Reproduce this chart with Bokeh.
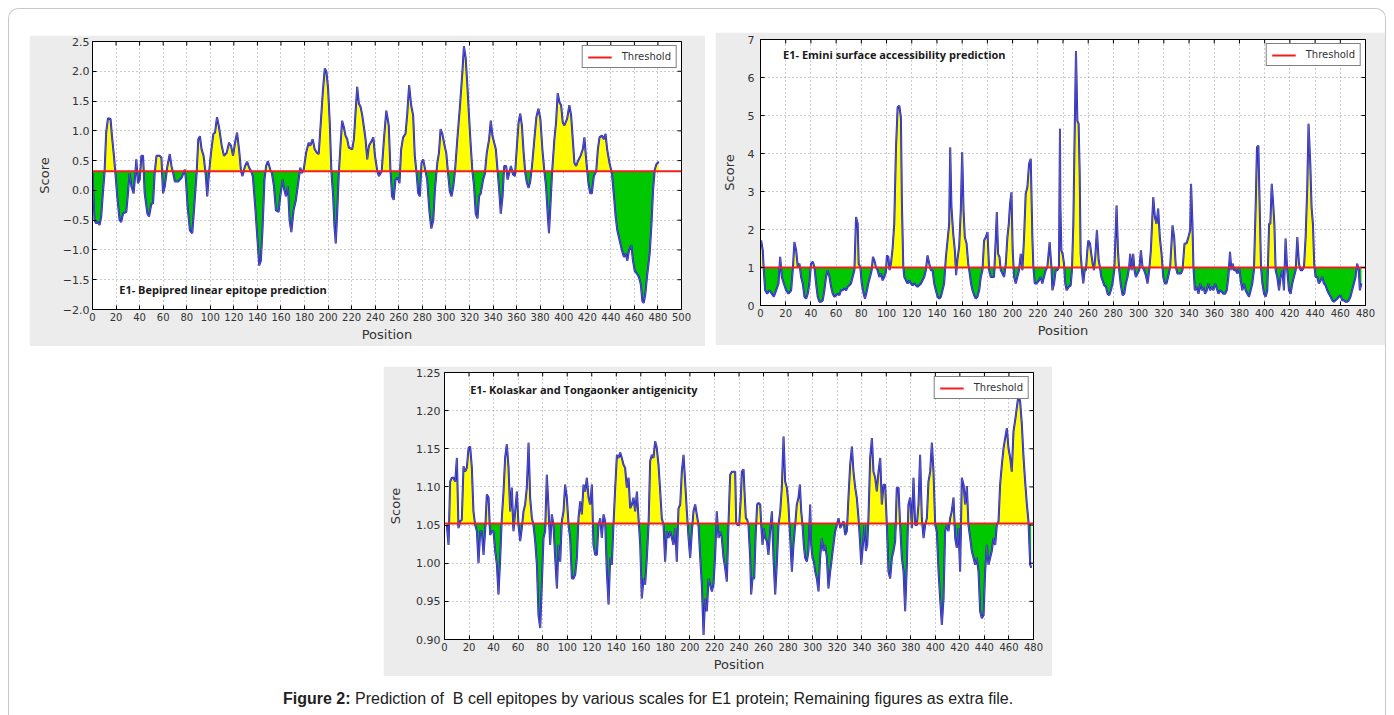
import numpy as np
from bokeh.plotting import figure
from bokeh.models import (Label, Legend, LegendItem, CustomJSTickFormatter, FixedTicker,
                          Range1d, Div, Spacer)
from bokeh.layouts import column, row
from bokeh.embed import file_html
from bokeh.resources import INLINE

# ---------------- data (position, score) ----------------
bepipred = [(0,0.29),(1.7,-0.50),(3.1,-0.55),(4.5,-0.53),(6.0,-0.58),(7.4,-0.44),(8.8,-0.05),(10.2,0.29),(11.6,0.97),(13.1,1.21),(15.3,1.20),(16.5,0.92),(18.2,0.58),(19.3,0.32),(21.0,-0.10),(23.0,-0.50),(24.4,-0.53),(25.9,-0.39),(28.7,-0.36),(30.1,-0.05),(31.5,0.29),(33.0,0.07),(34.9,-0.05),(36.4,0.29),(37.2,0.52),(38.6,0.12),(40.1,0.18),(41.5,0.58),(42.9,0.58),(44.3,-0.05),(46.6,-0.39),(48.0,-0.44),(50.0,-0.22),(51.4,-0.22),(52.8,0.29),(54.3,0.58),(57.1,0.58),(58.5,0.55),(59.9,-0.05),(61.4,0.07),(63.6,0.41),(65.6,0.61),(67.0,0.41),(68.5,0.29),(69.9,0.15),(72.7,0.15),(75.6,0.21),(78.4,0.35),(79.3,0.18),(80.7,-0.27),(82.7,-0.67),(84.7,-0.72),(86.4,-0.27),(88.4,0.29),(89.8,0.86),(91.2,0.91),(92.6,0.69),(94.3,0.58),(96.0,0.29),(97.4,-0.10),(98.9,0.29),(100.6,0.63),(102.6,0.95),(104.0,0.97),(105.7,1.23),(107.4,1.06),(109.7,0.75),(111.6,0.58),(113.9,0.63),(115.9,0.80),(117.6,0.75),(119.3,0.58),(121.0,0.80),(122.7,0.97),(124.4,0.69),(126.1,0.32),(127.3,0.24),(129.5,0.41),(131.3,0.48),(133.0,0.38),(134.7,0.32),(136.1,0.24),(138.1,-0.27),(140.1,-0.84),(141.5,-1.26),(142.9,-1.18),(144.3,-0.67),(146.0,0.18),(147.4,0.41),(148.9,0.49),(150.9,0.35),(152.3,0.29),(154.0,0.07),(155.7,-0.33),(158.0,-0.36),(159.4,-0.10),(161.4,0.18),(162.8,0.01),(164.2,-0.10),(165.9,0.07),(167.3,-0.50),(168.8,-0.70),(170.7,-0.33),(172.7,-0.16),(175.0,0.18),(176.4,0.38),(177.8,0.29),(179.3,0.35),(181.3,0.63),(183.5,0.80),(184.9,0.75),(186.9,0.86),(188.6,0.69),(190.6,0.63),(192.0,0.61),(193.8,1.14),(195.5,1.65),(197.2,2.05),(198.6,1.99),(200.0,1.71),(201.4,1.14),(202.8,0.32),(204.3,-0.10),(205.4,-0.61),(206.5,-0.89),(207.7,-0.39),(209.1,0.29),(210.5,0.75),(211.9,1.17),(213.4,1.06),(214.8,0.92),(216.2,0.86),(217.6,0.72),(220.5,0.69),(221.9,0.86),(223.3,1.31),(224.7,1.74),(226.1,1.46),(227.6,1.40),(229.0,1.26),(230.4,1.06),(231.8,0.86),(233.2,0.52),(234.7,0.75),(236.9,0.83),(238.4,0.89),(239.8,0.58),(241.8,0.32),(243.2,0.24),(245.5,0.32),(247.4,0.86),(249.4,1.34),(251.5,1.09),(252.9,0.35),(254.3,-0.10),(255.7,-0.16),(257.2,0.18),(259.1,0.21),(260.6,0.12),(262.0,0.69),(263.7,0.89),(265.7,0.95),(267.1,1.26),(268.8,1.77),(270.5,1.43),(272.2,1.26),(273.6,0.58),(275.1,0.29),(276.5,-0.05),(277.9,-0.10),(279.3,0.46),(280.7,0.52),(282.7,0.32),(284.1,0.18),(285.9,-0.33),(287.6,-0.64),(289.3,-0.50),(290.7,0.01),(292.7,0.46),(294.1,0.63),(295.5,1.03),(297.0,0.95),(298.9,0.75),(300.3,0.63),(301.8,0.29),(303.4,-0.02),(304.8,-0.10),(306.3,0.07),(307.7,0.32),(309.7,0.86),(312.0,1.43),(314.0,1.99),(315.3,2.42),(316.8,2.22),(318.2,1.77),(319.6,1.26),(321.1,0.75),(322.5,0.32),(323.9,0.07),(325.3,-0.39),(326.8,-0.47),(328.2,-0.10),(329.6,-0.05),(331.6,0.18),(333.0,0.27),(334.7,0.63),(336.7,0.86),(338.1,1.17),(339.5,0.92),(341.0,0.80),(342.4,0.69),(343.8,0.35),(345.2,0.01),(346.6,-0.39),(348.1,-0.10),(349.5,0.41),(351.2,0.41),(352.3,0.18),(353.8,0.29),(355.2,0.41),(356.9,0.27),(358.6,0.24),(360.3,0.75),(361.7,1.14),(363.1,1.29),(364.5,1.09),(366.0,0.63),(367.4,0.29),(368.8,0.12),(370.2,0.04),(371.6,0.15),(373.1,0.41),(375.1,0.86),(376.8,1.23),(378.5,1.37),(380.2,1.20),(381.9,0.69),(383.6,0.32),(385.0,0.07),(386.4,-0.39),(387.5,-0.72),(388.7,-0.27),(390.1,0.29),(392.1,0.86),(393.5,1.14),(394.9,1.63),(396.4,1.48),(397.8,1.43),(399.2,1.14),(400.6,1.09),(402.9,1.20),(404.8,1.43),(406.3,1.26),(407.7,0.86),(409.1,0.46),(410.6,0.41),(412.0,0.49),(414.3,0.58),(416.2,0.69),(417.6,0.89),(418.8,0.58),(419.9,0.35),(421.0,0.12),(422.5,-0.05),(423.9,-0.05),(425.6,0.24),(427.6,0.32),(429.0,0.69),(430.4,0.89),(432.4,0.92),(434.1,0.86),(435.5,0.95),(436.9,0.69),(438.9,0.46),(440.9,0.29),(442.7,-0.10),(444.1,-0.44),(445.5,-0.67),(447.5,-0.84),(449.5,-1.01),(451.1,-1.12),(452.6,-1.06),(454.0,-1.18),(455.4,-1.01),(457.4,-0.92),(458.8,-1.18),(460.3,-1.35),(462.2,-1.40),(463.9,-1.46),(465.4,-1.57),(466.8,-1.86),(467.9,-1.89),(469.3,-1.74),(471.0,-1.40),(473.0,-1.06),(474.4,-0.61),(475.9,0.01),(477.3,0.35),(478.7,0.44),(480.7,0.48)]

emini = [(0.5,1.71),(1.8,1.45),(2.6,0.93),(3.7,0.40),(5.3,0.31),(7.1,0.40),(9.0,0.31),(10.6,0.23),(12.4,0.40),(14.3,0.58),(15.6,1.28),(16.9,0.75),(18.5,0.58),(20.3,0.40),(22.2,0.31),(24.3,0.40),(25.6,0.93),(26.9,1.67),(28.3,1.45),(29.6,1.01),(30.9,1.10),(32.2,0.75),(33.5,0.58),(34.9,0.23),(36.2,0.18),(37.5,0.31),(38.8,0.58),(40.1,1.10),(41.5,1.15),(42.8,1.01),(44.1,0.58),(45.4,0.23),(46.7,0.10),(48.1,0.10),(49.4,0.14),(50.7,0.40),(52.0,0.75),(53.3,0.93),(54.7,0.75),(56.0,0.49),(57.3,0.31),(58.6,0.23),(59.9,0.27),(61.3,0.31),(62.6,0.27),(63.9,0.40),(65.2,0.40),(66.5,0.45),(67.9,0.40),(69.2,0.49),(70.5,0.53),(71.8,0.58),(73.1,0.75),(74.5,0.93),(75.8,2.33),(77.1,2.15),(77.9,1.10),(79.2,1.01),(80.3,0.58),(81.8,0.31),(82.9,0.18),(84.5,0.40),(85.5,0.58),(86.9,0.75),(88.2,0.93),(89.2,1.28),(90.3,1.19),(91.6,1.01),(92.9,0.93),(94.3,0.75),(95.6,0.84),(96.9,0.66),(98.2,0.75),(99.5,0.88),(100.3,1.32),(101.4,1.28),(102.4,0.93),(103.5,1.10),(104.8,1.50),(106.1,2.15),(107.5,4.16),(108.8,5.21),(110.1,5.26),(111.4,4.95),(112.2,2.68),(113.3,1.01),(114.1,0.75),(115.4,0.66),(116.7,0.58),(118.0,0.66),(119.3,0.58),(120.7,0.53),(122.0,0.58),(123.3,0.53),(124.6,0.49),(127.3,0.58),(129.9,0.75),(131.2,0.93),(132.5,1.32),(133.9,1.10),(135.2,0.93),(136.5,0.93),(137.8,0.58),(139.1,0.40),(140.5,0.23),(141.8,0.18),(143.1,0.23),(144.4,0.40),(145.7,0.58),(147.1,1.28),(148.4,1.71),(149.7,2.15),(150.5,4.16),(151.5,2.59),(152.9,1.89),(154.2,1.45),(155.2,0.80),(156.3,1.23),(157.6,1.54),(158.9,2.50),(160.0,4.03),(161.1,2.50),(162.1,1.80),(163.5,1.63),(164.8,1.10),(166.0,0.84),(167.0,0.58),(168.2,0.40),(169.5,0.27),(170.8,0.18),(172.1,0.23),(173.5,0.40),(174.8,0.75),(176.1,0.93),(177.4,1.71),(178.7,1.80),(180.1,1.93),(181.4,0.93),(182.7,0.75),(184.0,0.75),(185.3,0.75),(186.7,1.80),(187.5,2.46),(188.5,1.36),(189.6,1.28),(190.6,0.93),(192.0,0.84),(193.3,0.75),(194.6,1.10),(195.9,1.80),(197.0,2.15),(198.0,2.68),(199.1,2.98),(200.1,1.45),(201.2,0.75),(202.5,0.58),(203.8,0.75),(205.1,0.93),(206.5,1.36),(207.8,0.93),(209.1,1.80),(210.4,2.94),(211.7,3.11),(213.1,3.73),(214.4,3.86),(215.7,1.80),(216.5,1.01),(217.6,0.58),(219.1,0.58),(221.0,0.66),(222.3,0.75),(223.6,0.58),(224.9,0.75),(226.3,0.93),(227.6,1.01),(229.4,1.67),(230.8,1.01),(231.6,0.40),(232.9,0.58),(234.2,0.93),(235.5,0.93),(236.8,1.01),(237.6,4.65),(237.9,2.68),(238.7,1.45),(239.7,1.36),(240.8,1.10),(241.8,0.58),(242.9,0.40),(244.5,0.49),(246.1,0.53),(247.1,0.93),(248.2,2.15),(249.2,4.43),(250.3,6.70),(251.4,4.86),(252.4,4.78),(253.2,3.55),(254.0,1.36),(255.0,0.93),(256.1,0.58),(257.2,0.93),(258.2,0.93),(259.3,1.45),(260.1,1.71),(261.4,1.63),(262.4,1.36),(263.5,1.10),(264.6,0.93),(265.6,1.28),(266.9,1.98),(268.3,1.19),(269.3,1.01),(270.4,0.75),(271.4,0.66),(272.7,0.53),(274.1,0.49),(275.4,0.31),(276.7,0.27),(278.0,0.40),(279.3,0.58),(280.7,0.93),(282.5,2.63),(283.6,1.45),(284.6,0.93),(285.9,0.53),(287.3,0.27),(288.6,0.31),(289.9,0.58),(291.2,0.75),(292.5,1.01),(293.3,1.36),(294.4,0.93),(295.7,1.36),(296.7,0.93),(297.8,0.75),(299.1,0.84),(300.5,0.93),(301.8,1.45),(303.1,1.01),(304.4,0.93),(305.7,0.80),(307.1,0.58),(308.4,0.93),(309.7,1.45),(311.6,2.85),(312.9,2.33),(314.2,2.15),(315.5,2.55),(316.8,1.80),(318.2,1.36),(319.5,0.75),(320.8,0.58),(322.1,0.58),(323.4,0.75),(325.0,1.01),(326.9,2.11),(328.2,1.80),(329.5,1.01),(330.8,0.84),(332.1,0.84),(333.5,0.84),(334.8,0.93),(336.4,1.63),(338.0,1.63),(339.5,1.80),(340.9,1.98),(341.6,3.20),(342.7,2.15),(343.5,1.01),(344.6,0.40),(345.9,0.49),(347.5,0.31),(348.8,0.58),(350.1,0.40),(351.4,0.49),(352.7,0.31),(354.1,0.40),(355.4,0.58),(356.7,0.40),(358.0,0.49),(359.3,0.40),(360.7,0.58),(362.0,0.45),(363.3,0.31),(364.6,0.40),(365.9,0.36),(367.3,0.31),(368.6,0.31),(369.9,0.40),(371.2,0.75),(372.5,1.41),(373.6,0.93),(374.7,1.10),(375.7,0.93),(377.0,0.93),(378.4,0.84),(379.7,1.01),(381.0,0.66),(382.3,0.40),(383.6,0.58),(384.9,0.40),(386.3,0.31),(387.6,0.23),(388.9,0.40),(390.2,0.58),(391.5,0.93),(392.9,2.68),(393.9,4.16),(395.0,4.21),(396.0,2.68),(397.1,1.01),(398.2,0.58),(399.5,0.31),(400.8,0.23),(402.1,0.40),(403.5,2.15),(404.5,2.15),(405.6,3.20),(406.6,2.76),(407.7,2.15),(408.7,0.93),(410.0,0.75),(411.4,0.40),(412.7,0.75),(414.0,0.93),(415.3,0.40),(416.6,1.76),(417.9,0.93),(419.3,0.40),(420.6,0.31),(421.9,0.58),(423.2,0.75),(424.6,0.93),(425.9,1.80),(427.2,1.10),(428.5,0.93),(429.8,0.93),(431.2,1.01),(432.5,1.80),(433.8,3.11),(434.8,4.78),(436.2,3.73),(437.2,2.59),(438.3,2.15),(439.3,1.10),(440.4,0.75),(441.7,0.75),(443.0,0.58),(444.4,0.66),(445.7,0.75),(447.0,0.58),(448.3,0.53),(449.6,0.40),(451.0,0.31),(452.3,0.23),(453.6,0.14),(454.9,0.10),(456.2,0.14),(457.6,0.18),(458.9,0.23),(460.2,0.27),(461.5,0.14),(462.8,0.14),(464.2,0.10),(465.5,0.10),(466.8,0.14),(468.1,0.23),(469.4,0.40),(470.8,0.58),(472.1,0.75),(473.4,1.10),(474.7,0.93),(475.5,0.40),(476.8,0.58)]

kolaskar = [(1.9,1.050),(3.3,1.024),(4.6,1.107),(6.0,1.112),(7.3,1.112),(8.7,1.107),(10.1,1.138),(11.4,1.046),(12.8,1.055),(14.1,1.057),(15.5,1.127),(16.8,1.120),(18.2,1.125),(19.6,1.151),(20.9,1.153),(22.3,1.125),(23.6,1.068),(25.0,1.050),(26.4,1.042),(27.7,1.000),(29.1,1.042),(30.4,1.042),(31.8,1.011),(33.1,1.042),(34.5,1.090),(35.9,1.086),(37.2,1.037),(38.6,1.042),(39.9,1.042),(41.3,1.016),(42.7,0.998),(44.0,0.959),(45.4,1.007),(46.7,1.059),(48.1,1.094),(49.4,1.138),(50.8,1.156),(52.2,1.125),(53.5,1.068),(54.9,1.099),(56.2,1.042),(57.6,1.068),(59.0,1.094),(60.3,1.050),(61.7,1.029),(63.0,1.046),(64.4,1.068),(65.7,1.077),(67.1,1.099),(68.5,1.158),(69.8,1.086),(71.2,1.059),(72.5,1.050),(73.9,1.029),(75.3,0.998),(76.6,0.932),(78.0,0.915),(79.3,0.972),(80.7,1.033),(82.0,1.042),(83.4,1.116),(84.8,1.072),(86.1,1.024),(87.5,1.064),(88.8,1.050),(90.2,1.007),(91.6,0.967),(92.9,1.024),(94.3,1.002),(95.6,1.055),(97.0,1.068),(98.3,1.103),(99.7,1.086),(101.1,1.050),(102.4,1.033),(103.8,0.980),(105.1,0.980),(106.5,0.985),(107.9,1.007),(109.2,1.059),(110.6,1.081),(111.9,1.064),(113.3,1.103),(114.6,1.094),(116.0,1.112),(117.4,1.086),(118.7,1.077),(120.1,1.103),(121.4,1.024),(122.8,1.011),(124.2,1.011),(125.5,1.050),(126.9,1.059),(128.2,1.033),(129.6,1.064),(130.9,1.055),(132.3,0.989),(133.7,0.946),(135.0,1.007),(136.4,0.998),(137.7,1.050),(139.1,1.099),(140.5,1.142),(141.8,1.138),(143.2,1.145),(144.5,1.138),(145.9,1.129),(147.2,1.125),(148.6,1.099),(150.0,1.112),(151.3,1.072),(152.7,1.077),(154.0,1.086),(155.4,1.068),(156.8,1.094),(158.1,1.059),(159.5,1.024),(160.8,0.954),(162.2,0.980),(163.5,0.972),(164.9,1.007),(166.3,1.050),(167.6,1.134),(169.0,1.142),(170.3,1.138),(171.7,1.160),(173.0,1.151),(174.4,1.129),(175.8,1.094),(177.1,1.059),(178.5,1.050),(179.8,1.002),(181.2,1.042),(182.6,1.033),(183.9,1.042),(185.3,1.033),(186.6,1.024),(188.0,1.046),(189.3,1.002),(190.7,1.072),(192.1,1.077),(193.4,1.120),(194.8,1.142),(196.1,1.107),(197.5,1.068),(198.9,1.033),(200.2,1.007),(201.6,1.042),(202.9,1.068),(204.3,1.077),(205.6,1.064),(207.0,1.050),(208.4,1.007),(209.7,0.972),(211.1,0.906),(212.4,0.954),(213.8,0.937),(215.2,0.980),(216.5,0.972),(217.9,0.963),(219.2,0.972),(220.6,1.011),(221.9,1.068),(223.3,1.033),(224.7,1.042),(226.0,1.033),(227.4,1.007),(228.7,0.994),(230.1,0.976),(231.5,1.055),(232.8,1.116),(234.2,1.120),(235.5,1.120),(236.9,1.120),(237.7,1.053),(239.0,1.050),(240.1,1.050),(241.5,1.086),(242.3,1.120),(243.7,1.123),(244.5,1.094),(245.6,1.059),(246.7,1.057),(247.7,1.050),(249.1,1.007),(249.9,0.959),(251.0,0.980),(252.4,0.980),(253.7,1.042),(254.8,1.077),(255.9,1.079),(257.3,1.077),(258.1,1.050),(259.2,1.024),(260.2,1.046),(261.3,1.033),(262.7,1.029),(264.0,1.011),(265.4,1.042),(266.8,1.068),(268.1,1.007),(269.5,0.959),(270.8,0.998),(272.2,1.050),(273.6,1.068),(274.9,1.099),(276.3,1.166),(277.6,1.107),(279.0,1.099),(280.3,1.077),(281.7,1.033),(283.1,0.989),(284.4,1.024),(285.8,1.050),(287.1,1.077),(288.5,1.086),(289.6,1.103),(290.7,1.068),(291.8,1.050),(292.8,1.024),(293.9,1.007),(295.3,1.002),(296.6,1.016),(298.0,1.077),(298.8,1.024),(299.9,1.007),(301.0,1.002),(302.1,0.989),(303.4,0.980),(304.8,0.963),(306.1,1.007),(307.5,1.033),(308.9,1.016),(310.2,1.024),(311.6,1.007),(312.9,0.967),(314.3,0.989),(315.7,1.007),(317.0,1.024),(318.4,1.042),(319.7,1.050),(321.1,1.059),(322.5,1.046),(323.8,1.050),(325.2,1.055),(326.5,1.037),(327.9,1.042),(329.2,1.086),(330.6,1.129),(332.0,1.153),(333.3,1.120),(334.7,1.099),(336.0,1.086),(337.4,1.059),(338.8,1.024),(339.6,0.998),(341.0,1.024),(342.3,1.050),(343.4,1.016),(344.5,1.024),(345.5,1.059),(346.9,1.138),(348.3,1.164),(349.6,1.120),(351.0,1.112),(352.3,1.094),(353.7,1.120),(355.1,1.138),(356.4,1.077),(357.8,1.103),(359.1,1.103),(360.5,1.050),(361.8,0.989),(363.2,0.980),(364.6,1.007),(365.9,1.016),(367.3,1.029),(368.6,1.099),(370.0,1.099),(371.3,1.050),(372.7,1.007),(374.1,0.989),(375.4,0.937),(376.8,0.998),(378.1,1.077),(379.5,1.086),(380.9,1.046),(382.2,1.112),(383.6,1.050),(384.9,1.050),(386.3,1.077),(387.6,1.142),(389.0,1.059),(390.4,1.033),(391.7,1.050),(393.1,1.059),(394.4,1.107),(395.8,1.120),(397.2,1.158),(398.5,1.120),(399.9,1.050),(401.2,1.042),(402.6,0.989),(403.9,0.954),(405.3,0.919),(406.7,0.954),(408.0,1.042),(409.4,1.050),(410.7,1.042),(412.1,1.059),(413.4,1.068),(414.8,1.086),(416.2,1.033),(417.5,1.020),(418.9,1.046),(420.2,0.989),(421.6,1.112),(423.0,1.103),(424.3,1.077),(425.7,1.101),(427.0,1.050),(428.4,1.033),(429.7,1.016),(431.1,1.007),(432.5,0.998),(433.8,1.007),(435.2,0.989),(436.5,0.937),(437.9,0.928),(439.3,0.932),(440.6,0.989),(442.0,1.024),(443.3,0.998),(444.7,1.007),(446.0,1.016),(447.4,1.033),(448.8,1.024),(450.1,1.050),(451.5,1.055),(452.8,1.103),(454.2,1.129),(455.6,1.151),(456.9,1.164),(458.3,1.177),(459.6,1.151),(461.0,1.138),(462.3,1.120),(463.7,1.173),(465.1,1.188),(466.4,1.204),(467.8,1.221),(469.1,1.212),(470.5,1.182),(471.9,1.138),(473.2,1.107),(474.6,1.077),(475.9,1.055),(477.3,0.998),(478.1,0.994)]

bepi_threshold = 0.32
emini_threshold = 1.0
kolaskar_threshold = 1.052

bepi_title = "E1- Bepipred linear epitope prediction"
emini_title = "E1- Emini surface accessibility prediction"
kolaskar_title = "E1- Kolaskar and Tongaonker antigenicity"

bepi_xticks = list(range(0, 501, 20))
x480_ticks = list(range(0, 481, 20))
bepi_yticks = [-2.0, -1.5, -1.0, -0.5, 0.0, 0.5, 1.0, 1.5, 2.0, 2.5]
emini_yticks = [0, 1, 2, 3, 4, 5, 6, 7]
kolaskar_yticks = [0.90, 0.95, 1.00, 1.05, 1.10, 1.15, 1.20, 1.25]

caption_html = ('<div style="font-family:\'Liberation Sans\',Arial,sans-serif;font-size:16px;'
                'color:#222;white-space:nowrap;line-height:20px">'
                '<b>Figure 2:</b> Prediction of&nbsp; B cell epitopes by various scales for E1 '
                'protein; Remaining figures as extra file.</div>')

TXT = "#333333"


def make_panel(points, thr, xmax, ylim, xticks, yticks, ydec, title, title_xy,
               fw, fh, bl, br, bt, bb, ylab_standoff, ytick_standoff):
    xs = np.array([p[0] for p in points])
    ys = np.array([p[1] for p in points])
    p = figure(frame_width=fw, frame_height=fh, x_range=Range1d(0, xmax),
               y_range=Range1d(*ylim), output_backend="svg", toolbar_location=None,
               min_border_left=bl, min_border_right=br, min_border_top=bt,
               min_border_bottom=bb)
    p.background_fill_color = "white"
    p.border_fill_color = "#ececec"
    p.outline_line_color = "black"
    p.outline_line_width = 1

    p.varea(x=xs, y1=thr, y2=np.maximum(ys, thr), fill_color="#ffff00")
    p.varea(x=xs, y1=np.minimum(ys, thr), y2=thr, fill_color="#00c800")
    p.line(xs, ys, line_color="#1c1ce6", line_width=2.0)
    p.line(xs, ys, line_color="#7a7a7a", line_width=0.8, line_alpha=0.8)
    thr_r = p.line([0, xmax], [thr, thr], line_color="#f02020", line_width=2)

    p.xaxis.ticker = FixedTicker(ticks=xticks)
    p.yaxis.ticker = FixedTicker(ticks=yticks)
    p.xgrid.ticker = FixedTicker(ticks=xticks)
    p.ygrid.ticker = FixedTicker(ticks=yticks)
    for g in (p.xgrid, p.ygrid):
        g.grid_line_color = "#9a9a9a"
        g.grid_line_dash = "1 3"
        g.grid_line_width = 1

    p.xaxis.formatter = CustomJSTickFormatter(code="return Math.round(tick).toString();")
    p.yaxis.formatter = CustomJSTickFormatter(
        code="var s = Math.abs(tick).toFixed(%d); return (tick < -1e-9 ? '\\u2212' : '') + s;" % ydec)

    for ax in (p.xaxis, p.yaxis):
        ax.major_tick_in = 4
        ax.major_tick_out = 0
        ax.minor_tick_line_color = None
        ax.axis_line_color = "black"
        ax.major_tick_line_color = "black"
        ax.major_label_text_color = TXT
        ax.major_label_text_font = "DejaVu Sans"
        ax.axis_label_text_font = "DejaVu Sans"
        ax.axis_label_text_font_style = "normal"
        ax.axis_label_text_font_size = "13px"
        ax.axis_label_text_color = TXT
    p.xaxis.major_label_text_font_size = "10px"
    p.yaxis.major_label_text_font_size = "11px"
    p.xaxis.axis_label = "Position"
    p.yaxis.axis_label = "Score"
    p.xaxis.major_label_standoff = 3
    p.xaxis.axis_label_standoff = 3
    p.yaxis.major_label_standoff = ytick_standoff
    p.yaxis.axis_label_standoff = ylab_standoff

    # inward tick marks on the top and right edges of the frame (half of each dash is clipped)
    p.scatter(x=xticks, y=[ylim[1]] * len(xticks), marker="dash", angle=np.pi / 2,
              size=8, line_color="black", line_width=1)
    p.scatter(x=[xmax] * len(yticks), y=yticks, marker="dash",
              size=8, line_color="black", line_width=1)

    p.add_layout(Label(x=title_xy[0], y=title_xy[1], text=title, text_font="Open Sans",
                       text_font_style="bold", text_font_size="11px", text_color="#1a1a1a",
                       text_baseline="middle"))

    legend = Legend(items=[LegendItem(label="Threshold", renderers=[thr_r])],
                    location="top_right")
    legend.border_line_color = "black"
    legend.border_line_width = 1
    legend.background_fill_color = "white"
    legend.background_fill_alpha = 1
    legend.label_text_font = "DejaVu Sans"
    legend.label_text_font_size = "10px"
    legend.label_text_color = TXT
    legend.glyph_width = 24
    legend.glyph_height = 10
    legend.label_height = 10
    legend.label_standoff = 10
    legend.padding = 5
    legend.margin = 4
    legend.spacing = 0
    p.add_layout(legend)
    return p


p1 = make_panel(bepipred, bepi_threshold, 500, (-2.0, 2.5), bepi_xticks, bepi_yticks, 1,
                bepi_title, (22.7, -1.66), 589, 268, 63, 24, 6, 37, 8, 3)
p2 = make_panel(emini, emini_threshold, 480, (0, 7), x480_ticks, emini_yticks, 0,
                emini_title, (17.9, 6.6), 606, 266, 45, 20, 7, 40, 8, 6)
p3 = make_panel(kolaskar, kolaskar_threshold, 480, (0.90, 1.25), x480_ticks, kolaskar_yticks, 2,
                kolaskar_title, (20.9, 1.228), 589, 267, 61, 19, 6, 37, 10, 4)

caption = Div(text=caption_html, width=900, height=22)

top_row = row(Spacer(width=20), column(Spacer(height=3), p1), Spacer(width=10), p2)
mid_row = row(Spacer(width=374), p3)
cap_row = row(Spacer(width=269), caption)

layout = column(Spacer(height=23), top_row, Spacer(height=20), mid_row, Spacer(height=8), cap_row,
                width=1378,
                styles={"margin-left": "8px", "margin-top": "8px",
                        "border-top": "1px solid #c8c8c8", "border-left": "1px solid #c8c8c8",
                        "border-right": "1px solid #c8c8c8",
                        "border-radius": "10px 10px 0 0"})

open("out.html", "w").write(file_html(layout, INLINE))
